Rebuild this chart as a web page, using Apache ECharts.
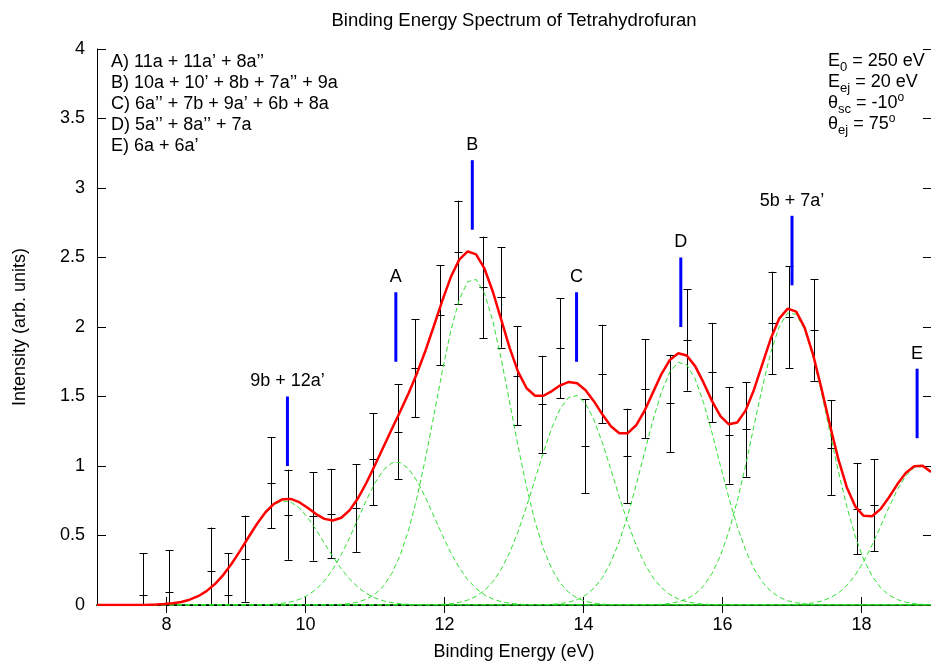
<!DOCTYPE html>
<html><head><meta charset="utf-8">
<script src="https://cdn.jsdelivr.net/npm/echarts@6/dist/echarts.min.js"></script>
<style>html,body{margin:0;padding:0;background:#fff}#chart{width:931px;height:661px}</style>
</head><body><div id="chart"></div>
<script>
// Measured points (binding energy in eV, intensity, error half-height)
const energies = [7.66, 8.03, 8.64, 8.89, 9.13, 9.50, 9.75, 10.11, 10.36, 10.72, 10.97, 11.33, 11.58, 11.94, 12.19, 12.56, 12.81, 13.05, 13.41, 13.66, 14.02, 14.27, 14.63, 14.88, 15.24, 15.49, 15.85, 16.10, 16.34, 16.71, 16.96, 17.32, 17.56, 17.93, 18.18];
const intensities = [0.069, 0.096, 0.244, 0.074, 0.333, 0.881, 0.650, 0.638, 0.658, 0.698, 1.050, 1.245, 1.702, 2.084, 2.537, 2.285, 2.213, 1.649, 1.443, 1.846, 1.142, 1.663, 1.072, 1.555, 1.450, 1.906, 1.673, 1.221, 1.263, 2.030, 2.071, 1.978, 1.133, 0.694, 0.717];
const errors = [0.305, 0.300, 0.313, 0.300, 0.310, 0.328, 0.324, 0.319, 0.321, 0.315, 0.331, 0.342, 0.353, 0.360, 0.372, 0.365, 0.362, 0.357, 0.350, 0.360, 0.339, 0.353, 0.340, 0.356, 0.350, 0.365, 0.357, 0.348, 0.340, 0.368, 0.365, 0.365, 0.341, 0.328, 0.332];

// Fitted Gaussian components (centre, height, sigma)
const peakCentres = [9.70, 11.31, 12.41, 13.87, 15.40, 16.99, 18.84];
const peakHeights = [0.75, 1.03, 2.35, 1.51, 1.75, 2.11, 1.00];
const peakWidths  = [0.56, 0.55, 0.54, 0.56, 0.54, 0.54, 0.53];
const fitSamples = 100;

// Orbital assignment markers
const markerEnergies = [9.74, 11.30, 12.40, 13.90, 15.40, 17.00, 18.80];
const markerLow  = [1.00, 1.75, 2.70, 1.75, 2.00, 2.30, 1.20];
const markerHigh = [1.50, 2.25, 3.20, 2.25, 2.50, 2.80, 1.70];
const markerLabels = ['9b + 12a\u2019', 'A', 'B', 'C', 'D', '5b + 7a\u2019', 'E'];

const xTickValues = [8, 10, 12, 14, 16, 18];
const legendLines = [
  'A) 11a + 11a\u2019 + 8a\u2019\u2019',
  'B) 10a + 10\u2019 + 8b + 7a\u2019\u2019 + 9a',
  'C) 6a\u2019\u2019 + 7b + 9a\u2019 + 6b + 8a',
  'D) 5a\u2019\u2019 + 8a\u2019\u2019 + 7a',
  'E) 6a + 6a\u2019'
];
const titleText = 'Binding Energy Spectrum of Tetrahydrofuran';
const xName = 'Binding Energy (eV)';
const yName = 'Intensity (arb. units)';

const X_MIN = 7, X_MAX = 19;
const FONT = '"Liberation Sans", Arial, Helvetica, sans-serif';

// Fit model curves
const sampleX = [];
for (let k = 0; k < fitSamples; k++) sampleX.push(X_MIN + k * (X_MAX - X_MIN) / (fitSamples - 1));
function gauss(i, x) { const d = x - peakCentres[i]; return peakHeights[i] * Math.exp(-d * d / (2 * peakWidths[i] * peakWidths[i])); }
const componentSeries = peakCentres.map((c, i) => ({
  type: 'line', name: 'component' + i, z: 3, silent: true,
  symbol: 'none', showSymbol: false, clip: true,
  lineStyle: { color: '#2fe02f', width: 1, type: [5, 3] },
  data: sampleX.map(x => [x, gauss(i, x)])
}));
const totalSeries = {
  type: 'line', name: 'fit', z: 4, silent: true, symbol: 'none', showSymbol: false, clip: true,
  lineStyle: { color: '#ff0000', width: 2.5 },
  data: sampleX.map(x => [x, peakCentres.reduce((s, c, i) => s + gauss(i, x), 0)])
};

const errorData = energies.map((e, i) => [e, intensities[i], errors[i]]);
const markerData = markerEnergies.map((e, i) => [e, markerLow[i], markerHigh[i], i]);

const chart = echarts.init(document.getElementById('chart'), null, { renderer: 'canvas' });
chart.setOption({
  animation: false,
  backgroundColor: '#fff',
  grid: { left: 97, right: 0, top: 49, bottom: 56, containLabel: false, outerBoundsMode: 'none' },
  xAxis: [{
    type: 'value', min: X_MIN, max: X_MAX, position: 'bottom',
    name: xName, nameLocation: 'middle', nameGap: 38,
    nameTextStyle: { fontSize: 18, fontFamily: FONT, color: '#000' },
    axisLine: { show: true, lineStyle: { color: '#0b5a0b', width: 2 } },
    axisTick: { show: true, inside: true, length: 8, customValues: xTickValues, lineStyle: { color: '#000' } },
    axisLabel: { customValues: xTickValues, fontSize: 18, fontFamily: FONT, color: '#000', margin: 11 },
    splitLine: { show: false }
  }, {
    type: 'value', min: X_MIN, max: X_MAX, position: 'top',
    axisLine: { show: true, lineStyle: { color: '#000', width: 1 } },
    axisTick: { show: true, inside: true, length: 8, customValues: xTickValues, lineStyle: { color: '#000' } },
    axisLabel: { show: false },
    splitLine: { show: false }
  }],
  yAxis: [{
    type: 'value', min: 0, max: 4, interval: 0.5, position: 'left',
    name: yName, nameLocation: 'middle', nameGap: 68, nameRotate: 90,
    nameTextStyle: { fontSize: 18, fontFamily: FONT, color: '#000' },
    axisLine: { show: true, lineStyle: { color: '#000', width: 1 } },
    axisTick: { show: true, inside: true, length: 9, lineStyle: { color: '#000' } },
    axisLabel: { fontSize: 18, fontFamily: FONT, color: '#000', margin: 12 },
    splitLine: { show: false }
  }, {
    type: 'value', min: 0, max: 4, interval: 0.5, position: 'right',
    axisLine: { show: true, lineStyle: { color: '#000', width: 1 } },
    axisTick: { show: true, inside: true, length: 8, lineStyle: { color: '#000' } },
    axisLabel: { show: false },
    splitLine: { show: false }
  }],
  graphic: [
    { type: 'text', x: 514, y: 21, z: 10,
      style: { text: titleText, font: '18.5px ' + FONT, fill: '#000', align: 'center', verticalAlign: 'middle' } },
    { type: 'text', x: 111, y: 52, z: 10,
      style: { text: legendLines.join('\n'), font: '18px ' + FONT, fill: '#000', lineHeight: 21, align: 'left', verticalAlign: 'top' } },
    { type: 'text', x: 828, y: 51, z: 10,
      style: {
        text: '{m|E}{sub|0}{m| = 250 eV}\n{m|E}{sub|ej}{m| = 20 eV}\n{m|\u03b8}{sub|sc}{m| = -10}{sup|o}\n{m|\u03b8}{sub|ej}{m| = 75}{sup|o}',
        align: 'left', verticalAlign: 'top', fill: '#000',
        rich: {
          m: { fontSize: 18, fontFamily: FONT, lineHeight: 21, fill: '#000' },
          sub: { fontSize: 13, fontFamily: FONT, lineHeight: 21, padding: [12, 0, 0, 0], fill: '#000' },
          sup: { fontSize: 12, fontFamily: FONT, lineHeight: 21, padding: [0, 0, 12, 0], fill: '#000' }
        }
      } }
  ],
  series: [{
    type: 'custom', name: 'data', z: 2, silent: true, clip: true,
    data: errorData,
    encode: { x: 0, y: 1 },
    renderItem: function (params, api) {
      const x = api.value(0), v = api.value(1), e = api.value(2);
      const low = Math.max(v - e, 0);
      const pT = api.coord([x, v + e]);
      const pB = api.coord([x, low]);
      const pM = api.coord([x, v]);
      const px = Math.round(pT[0]) + 0.5;
      const hw = 4;
      const st = { stroke: '#000', lineWidth: 1 };
      const ch = [
        { type: 'line', shape: { x1: px, y1: pT[1], x2: px, y2: pB[1] }, style: st },
        { type: 'line', shape: { x1: px - hw, y1: Math.round(pT[1]) + 0.5, x2: px + hw, y2: Math.round(pT[1]) + 0.5 }, style: st },
        { type: 'line', shape: { x1: px - hw, y1: Math.round(pM[1]) + 0.5, x2: px + hw, y2: Math.round(pM[1]) + 0.5 }, style: st }
      ];
      if (v - e >= 0) ch.push({ type: 'line', shape: { x1: px - hw, y1: Math.round(pB[1]) + 0.5, x2: px + hw, y2: Math.round(pB[1]) + 0.5 }, style: st });
      return { type: 'group', children: ch };
    }
  }].concat(componentSeries, [totalSeries, {
    type: 'custom', name: 'markers', z: 5, silent: true,
    data: markerData,
    encode: { x: 0, y: [1, 2] },
    renderItem: function (params, api) {
      const x = api.value(0);
      const pL = api.coord([x, api.value(1)]);
      const pH = api.coord([x, api.value(2)]);
      const label = markerLabels[api.value(3)];
      return { type: 'group', children: [
        { type: 'line', shape: { x1: pL[0], y1: pL[1], x2: pH[0], y2: pH[1] }, style: { stroke: '#0000ff', lineWidth: 3 } },
        { type: 'text', style: { text: label, x: pH[0], y: pH[1] - 15, align: 'center', verticalAlign: 'middle', font: '18px ' + FONT, fill: '#000' } }
      ] };
    }
  }])
});
</script></body></html>
